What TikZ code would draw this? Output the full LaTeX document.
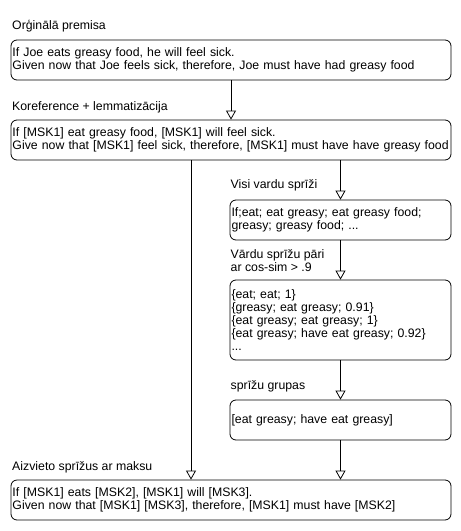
\documentclass[tikz,border=0pt]{standalone}
\usepackage{fontspec}
\setmainfont{Liberation Sans}
\usetikzlibrary{arrows.meta}
\tikzstyle{text box}=[draw=black, rounded corners=6pt, line width=0.8pt, inner xsep=1.5pt, inner ysep=0pt, align=left, font=\fontsize{12.3}{13}\selectfont, minimum height=40pt]
\tikzstyle{wide box}=[style=text box, text width=437pt]
\tikzstyle{narrow box}=[style=text box, text width=218pt]
\tikzstyle{caption}=[anchor=west, inner sep=0pt, align=left, font=\fontsize{12.3}{13}\selectfont]
\tikzstyle{flow}=[-{Triangle[open, width=10pt, length=9pt]}, draw=black, line width=0.8pt]
\pgfdeclarelayer{nodelayer}
\pgfdeclarelayer{edgelayer}
\pgfsetlayers{main,nodelayer,edgelayer}

\begin{document}
\begin{tikzpicture}[x=1pt, y=-1pt]
	\useasboundingbox [fill=white] (0, 0) rectangle (461, 531);
	\begin{pgfonlayer}{nodelayer}
		\node [style=caption] (0) at (12, 26) {Orģinālā premisa};
		\node [style=wide box] (1) at (231, 60) {If Joe eats greasy food, he will feel sick.\\Given now that Joe feels sick, therefore, Joe must have had greasy food};
		\node [style=caption] (2) at (12, 107) {Koreference + lemmatizācija};
		\node [style=wide box] (3) at (231, 140) {If [MSK1] eat greasy food, [MSK1] will feel sick.\\Give now that [MSK1] feel sick, therefore, [MSK1] must have have greasy food};
		\node [style=caption] (4) at (230.5, 185) {Visi vardu sprīži};
		\node [style=narrow box] (5) at (340.5, 220) {If;eat; eat greasy; eat greasy food;\\greasy; greasy food; ...};
		\node [style=caption] (6) at (230.5, 260.5) {Vārdu sprīžu pāri\\ar cos-sim > .9};
		\node [style=narrow box, minimum height=80pt] (7) at (340.5, 320) {\{eat; eat; 1\}\\\{greasy; eat greasy; 0.91\}\\\{eat greasy; eat greasy; 1\}\\\{eat greasy; have eat greasy; 0.92\}\\...};
		\node [style=caption] (8) at (230.5, 386) {sprīžu grupas};
		\node [style=narrow box] (9) at (340.5, 420) {[eat greasy; have eat greasy]};
		\node [style=caption] (10) at (12, 467) {Aizvieto sprīžus ar maksu};
		\node [style=wide box] (11) at (231, 500) {If [MSK1] eats [MSK2], [MSK1] will [MSK3].\\Given now that [MSK1] [MSK3], therefore, [MSK1] must have [MSK2]};
		\coordinate (12) at (191, 0);
	\end{pgfonlayer}
	\begin{pgfonlayer}{edgelayer}
		\draw [style=flow] (1) to (3);
		\draw [style=flow] (3.south -| 5.north) to (5.north);
		\draw [style=flow] (5) to (7);
		\draw [style=flow] (7) to (9);
		\draw [style=flow] (9.south) to (11.north -| 9.south);
		\draw [style=flow] (3.south -| 12) to (11.north -| 12);
	\end{pgfonlayer}
\end{tikzpicture}
\end{document}
